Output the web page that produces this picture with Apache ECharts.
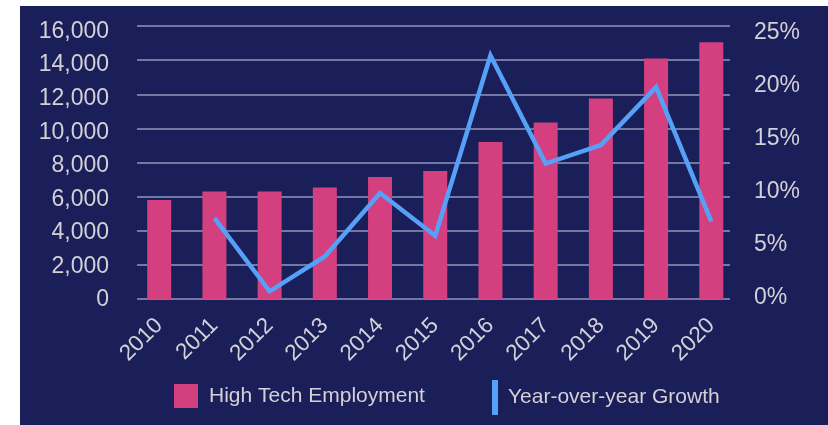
<!DOCTYPE html>
<html>
<head>
<meta charset="utf-8">
<script src="https://cdn.jsdelivr.net/npm/echarts@6/dist/echarts.min.js"></script>
<style>
  html, body { margin: 0; padding: 0; background: #ffffff; }
  #wrap { position: relative; width: 828px; height: 425px; overflow: hidden; }
  #bg { position: absolute; left: 20px; top: 6px; width: 808px; height: 419px; background: #1a1f59; }
  #chart { position: absolute; left: 0; top: 0; width: 828px; height: 425px; }
</style>
</head>
<body>
<div id="wrap"><div id="bg"></div><div id="chart"></div></div>
<script>
const years = ['2010', '2011', '2012', '2013', '2014', '2015', '2016', '2017', '2018', '2019', '2020'];
const employment = [5800, 6300, 6300, 6530, 7150, 7500, 9200, 10350, 11750, 14100, 15050];
const growth = [null, 7.4, 0.7, 3.9, 9.7, 5.8, 22.3, 12.4, 14.1, 19.4, 7.1];
const leftTicks = ['0', '2,000', '4,000', '6,000', '8,000', '10,000', '12,000', '14,000', '16,000'];
const rightTicks = ['0%', '5%', '10%', '15%', '20%', '25%'];
const seriesNames = ['High Tech Employment', 'Year-over-year Growth'];

const TXT = '#d3d1d6';
const FONT = '"Liberation Sans", Arial, sans-serif';

const chart = echarts.init(document.getElementById('chart'), null, { renderer: 'canvas' });
chart.setOption({
  backgroundColor: 'transparent',
  animation: false,
  textStyle: { fontFamily: FONT },
  grid: [
    { left: 131.6, right: 89.1, top: 26, bottom: 126 },   // marks
    { left: 137, right: 98, top: 26, bottom: 126 },       // gridlines
    { left: 137, right: 98, top: 31.5, bottom: 125 },     // left labels
    { left: 137, right: 98, top: 32.5, bottom: 127 }      // right labels
  ],
  legend: [
    {
      data: [seriesNames[0]], left: 174, top: 384, padding: 0, itemWidth: 24, itemHeight: 24,
      icon: 'rect',
      textStyle: { color: TXT, fontSize: 21, fontFamily: FONT, padding: [0, 0, 0, 6] }
    },
    {
      data: [seriesNames[1]], left: 492, top: 380, padding: 0, itemWidth: 6, itemHeight: 35,
      icon: 'rect',
      textStyle: { color: TXT, fontSize: 21, fontFamily: FONT, padding: [0, 0, 0, 5] }
    }
  ],
  xAxis: [
    {
      type: 'category', gridIndex: 0, data: years, boundaryGap: true,
      axisLine: { show: false }, axisTick: { show: false },
      axisLabel: { color: TXT, fontSize: 22.5, rotate: 45, margin: 23, fontFamily: FONT, interval: 0 }
    },
    { type: 'value', gridIndex: 1, min: 0, max: 1, show: false },
    { type: 'value', gridIndex: 2, min: 0, max: 1, show: false },
    { type: 'value', gridIndex: 3, min: 0, max: 1, show: false }
  ],
  yAxis: [
    { type: 'value', gridIndex: 0, min: 0, max: 16000, interval: 2000, show: false },
    { type: 'value', gridIndex: 0, min: 0, max: 25, interval: 5, show: false },
    {
      type: 'value', gridIndex: 1, min: 0, max: 16000, interval: 2000,
      axisLine: { show: false }, axisTick: { show: false }, axisLabel: { show: false },
      splitLine: { show: true, lineStyle: { color: '#9197bd', width: 1.5 } }
    },
    {
      type: 'value', gridIndex: 2, min: 0, max: 16000, interval: 2000, position: 'left',
      axisLine: { show: false }, axisTick: { show: false }, splitLine: { show: false },
      axisLabel: {
        color: TXT, fontSize: 23, margin: 28, fontFamily: FONT,
        formatter: (v) => leftTicks[Math.round(v / 2000)]
      }
    },
    {
      type: 'value', gridIndex: 3, min: 0, max: 25, interval: 5, position: 'right',
      axisLine: { show: false }, axisTick: { show: false }, splitLine: { show: false },
      axisLabel: {
        color: TXT, fontSize: 23, margin: 24, fontFamily: FONT,
        formatter: (v) => rightTicks[Math.round(v / 5)]
      }
    }
  ],
  series: [
    {
      name: seriesNames[0], type: 'bar', xAxisIndex: 0, yAxisIndex: 0,
      data: employment, barWidth: 24,
      itemStyle: { color: '#d4407f' }
    },
    {
      name: seriesNames[1], type: 'line', xAxisIndex: 0, yAxisIndex: 1,
      data: growth, showSymbol: false, connectNulls: false,
      lineStyle: { color: '#55a1f8', width: 4.5, join: 'miter' },
      itemStyle: { color: '#55a1f8' },
      z: 5
    }
  ]
});
</script>
</body>
</html>
